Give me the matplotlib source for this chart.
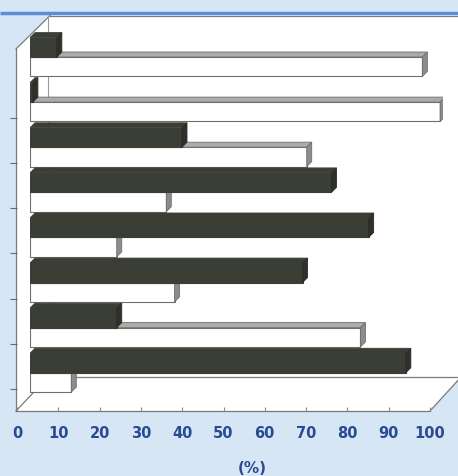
import numpy as np
import matplotlib.pyplot as plt
from matplotlib.patches import Polygon

# values, top row first (percent)
rows = ['1', '2', '3', '4', '5', '6', '7', '8']
dark_vals = [6.5, 0.7, 36.8, 73, 82, 66, 21, 91]
white_vals = [95, 99.3, 67, 33, 21, 35, 80, 10]
ticks = [0, 10, 20, 30, 40, 50, 60, 70, 80, 90, 100]

W, H = 458, 477
blue_bg = '#d6e6f5'
label_col = '#2a4a94'


def px_rect(x0, y0, x1, y1):
    # figure fraction rect from pixel box (y down)
    return [x0 / W, 1 - y1 / H, (x1 - x0) / W, (y1 - y0) / H]


fig = plt.figure(figsize=(W / 100, H / 100), dpi=100, facecolor=blue_bg)

# background box / walls / floor, pixel units
bg = fig.add_axes([0, 0, 1, 1], zorder=0)
bg.set_xlim(0, W)
bg.set_ylim(H, 0)
bg.axis('off')
bg.add_patch(Polygon([(16, 412), (16, 50), (50, 16), (W, 16), (W, 381), (430, 412)],
                     closed=True, facecolor='white', edgecolor='none'))
bg.plot([0, W], [13.5, 13.5], color='#5a8fd8', lw=2.5, solid_capstyle='butt')
line_kw = dict(color='#7a7a7a', lw=0.9)
bg.plot([50, W], [16.5, 16.5], **line_kw)
bg.plot([16, 50], [50, 16.5], **line_kw)
bg.plot([16, 16], [50, 412], **line_kw)
bg.plot([16, 430], [412, 412], **line_kw)
bg.plot([430, 461], [412, 378], **line_kw)
bg.plot([48, W], [378, 378], **line_kw)
bg.plot([16, 48], [412, 378], **line_kw)
bg.plot([48, 48], [16.5, 378], color='#9a9a9a', lw=0.8)

# front plane: x ticks on the floor edge, category ticks on the wall edge
n = len(rows)
fx = fig.add_axes(px_rect(17, 50, 430, 412), zorder=1)
fx.patch.set_visible(False)
for s in fx.spines.values():
    s.set_visible(False)
fx.set_xlim(0, 100)
fx.set_ylim(7.5 + 22 / 45.2, 7.5 - 340 / 45.2)
fx.set_xticks(ticks)
fx.set_xticklabels([str(t) for t in ticks], color=label_col, fontsize=10.5,
                   fontweight='bold', family='DejaVu Sans')
fx.tick_params(axis='x', direction='in', length=3, width=0.8, color='#8a8a8a', pad=10)
fx.set_yticks(np.arange(1, n) + 0.5)
fx.set_yticklabels([])
fx.tick_params(axis='y', direction='out', length=5, width=0.8, color='#6a6a6a')
fig.text(252 / W, 1 - 469 / H, '(%)', color=label_col, fontsize=11,
         fontweight='bold', ha='center', va='center')

# bars, drawn a bit back from the front plane
ax = fig.add_axes(px_rect(30, 10, 443, 420), zorder=2)
ax.patch.set_visible(False)
ax.axis('off')
ax.set_xlim(0, 100)
ax.set_ylim((420 - 58) / 45.1, (10 - 58) / 45.1)

h = 0.43
dx = 1.21
dy = 0.111
dark = '#3b3e35'
for i, (d, w) in enumerate(zip(dark_vals, white_vals)):
    # white bar (lower one of the pair)
    ax.barh(i + h / 2, w, height=h, color='white', edgecolor='#6e6e6e', lw=0.8, zorder=2)
    ax.add_patch(Polygon([(0, i), (dx, i - dy), (w + dx, i - dy), (w, i)],
                         facecolor='#ababab', edgecolor='#6e6e6e', lw=0.6, zorder=2))
    ax.add_patch(Polygon([(w, i), (w + dx, i - dy), (w + dx, i + h - dy), (w, i + h)],
                         facecolor='#8c8c8c', edgecolor='#6e6e6e', lw=0.6, zorder=2))
    # dark bar on top
    ax.barh(i - h / 2, d, height=h, color=dark, edgecolor=dark, lw=0.8, zorder=4)
    ax.add_patch(Polygon([(0, i - h), (dx, i - h - dy), (d + dx, i - h - dy), (d, i - h)],
                         facecolor=dark, edgecolor=dark, lw=0.6, zorder=4))
    ax.add_patch(Polygon([(d, i - h), (d + dx, i - h - dy), (d + dx, i - dy), (d, i)],
                         facecolor='#2e302a', edgecolor='#2a2c25', lw=0.6, zorder=4))

fig.savefig('out.png', dpi=100, facecolor=fig.get_facecolor())
